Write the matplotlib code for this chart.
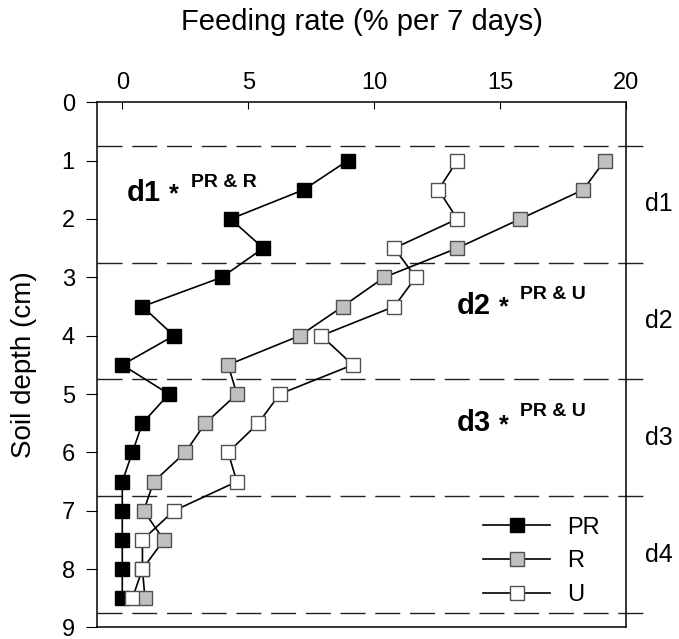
import matplotlib
matplotlib.use("Agg")
import matplotlib.pyplot as plt

plt.rcParams['font.family'] = ['Liberation Sans', 'DejaVu Sans']

depth = [1, 1.5, 2, 2.5, 3, 3.5, 4, 4.5, 5, 5.5, 6, 6.5, 7, 7.5, 8, 8.5]
pr = [8.95, 7.2, 4.3, 5.6, 3.95, 0.8, 2.05, 0.0, 1.85, 0.8, 0.4, 0.0, 0.0, 0.0, 0.0, 0.0]
r = [19.15, 18.3, 15.8, 13.3, 10.4, 8.75, 7.05, 4.2, 4.55, 3.3, 2.5, 1.25, 0.85, 1.65, 0.8, 0.9]
u = [13.3, 12.55, 13.3, 10.8, 11.65, 10.8, 7.9, 9.15, 6.25, 5.4, 4.2, 4.55, 2.05, 0.8, 0.8, 0.4]

layer_bounds = [0.75, 2.75, 4.75, 6.75, 8.75]
layer_names = ["d1", "d2", "d3", "d4"]
layer_mid = [1.75, 3.75, 5.75, 7.75]

fig = plt.figure(figsize=(6.79, 6.39), dpi=100)
ax = fig.add_axes([0.143, 0.018, 0.779, 0.822])

ms = 10.3
ax.plot(pr, depth, '-s', color='black', lw=1.2, ms=ms, mfc='black', mec='black', label='PR', zorder=3)
ax.plot(r, depth, '-s', color='black', lw=1.2, ms=ms, mfc='#c0c0c0', mec='#505050', mew=1.0, label='R', zorder=3)
ax.plot(u, depth, '-s', color='black', lw=1.2, ms=ms, mfc='white', mec='#505050', mew=1.0, label='U', zorder=4)

for b in layer_bounds:
    ax.plot([-1, 21.0], [b, b], color='#222222', lw=1.0, dashes=(18, 7), clip_on=False, zorder=2)

for name, m in zip(layer_names, layer_mid):
    ax.text(20.75, m, name, fontsize=18, va='center', ha='left')

# significance labels
ax.text(0.16, 1.69, "d1", fontsize=21, fontweight='bold', va='baseline')
ax.text(1.87, 1.70, "*", fontsize=18, fontweight='bold', va='baseline')
ax.text(2.74, 1.46, "PR & R", fontsize=14, fontweight='bold', va='baseline')
ax.text(13.28, 3.63, "d2", fontsize=21, fontweight='bold', va='baseline')
ax.text(14.95, 3.64, "*", fontsize=18, fontweight='bold', va='baseline')
ax.text(15.79, 3.37, "PR & U", fontsize=14, fontweight='bold', va='baseline')
ax.text(13.28, 5.64, "d3", fontsize=21, fontweight='bold', va='baseline')
ax.text(14.95, 5.65, "*", fontsize=18, fontweight='bold', va='baseline')
ax.text(15.79, 5.38, "PR & U", fontsize=14, fontweight='bold', va='baseline')

ax.set_xlim(-1, 20)
ax.set_ylim(9, 0)
ax.set_xticks([0, 5, 10, 15, 20])
ax.set_yticks(range(0, 10))
ax.xaxis.tick_top()
ax.xaxis.set_label_position('top')
ax.tick_params(axis='x', direction='in', labelsize=17, length=5, pad=6)
ax.tick_params(axis='y', direction='out', labelsize=17, length=8, pad=8)
ax.set_xlabel("Feeding rate (% per 7 days)", fontsize=21, labelpad=30)
ax.set_ylabel("Soil depth (cm)", fontsize=20, labelpad=18)
for s in ax.spines.values():
    s.set_linewidth(1.1)

ax.legend(loc='lower right', bbox_to_anchor=(0.99, 0.0), frameon=False, fontsize=17,
          handlelength=2.85, handletextpad=0.7, labelspacing=0.5)

fig.savefig("out.png", dpi=100)
